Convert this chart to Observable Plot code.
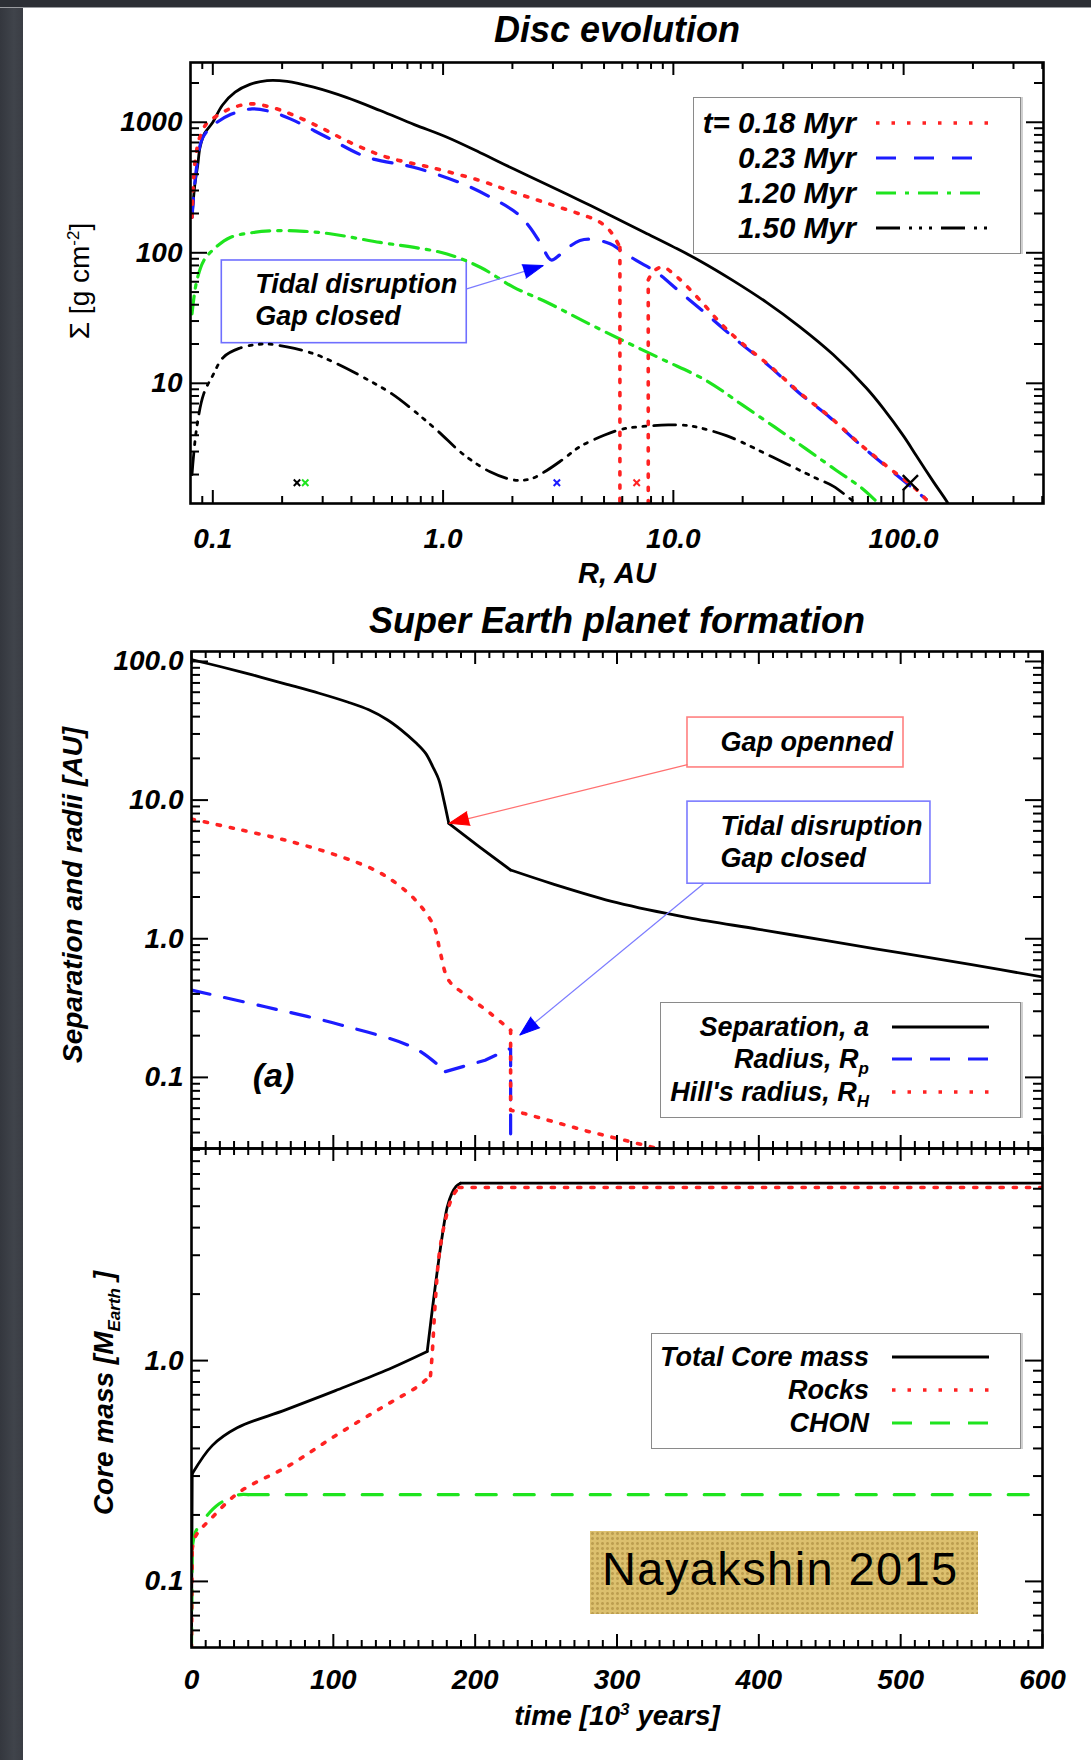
<!DOCTYPE html>
<html>
<head>
<meta charset="utf-8">
<script src="https://cdn.jsdelivr.net/npm/d3@7"></script>
<script src="https://cdn.jsdelivr.net/npm/@observablehq/plot@0.6"></script>
<style>
  html, body { margin: 0; padding: 0; background: #fff; }
  #page { position: relative; width: 1091px; height: 1760px; overflow: hidden; background: #fff;
          font-family: "Liberation Sans", Arial, Helvetica, sans-serif; color: #000; }
  .lbl { position: absolute; white-space: nowrap; font-weight: bold; font-style: italic; line-height: 1; }
  .ctr { transform: translate(-50%, -50%); }
  .rot { transform: translate(-50%, -50%) rotate(-90deg); }
  .legend { position: absolute; box-sizing: border-box; background: #fff; border: 1.5px solid #8a8a8a; box-shadow: 2px 0 0 #d0d0d0; }
  .legend .txt { position: absolute; transform: translate(-100%, -50%); white-space: nowrap;
                 font-weight: bold; font-style: italic; font-size: 27px; line-height: 1; }
  .legend svg { position: absolute; overflow: visible; }
  sub, sup { font-size: 17px; line-height: 0; }
  #nay { position: absolute; left: 590px; top: 1531px; width: 388px; height: 83px;
         background-color: #dcc06e;
         background-image: radial-gradient(rgba(150,118,45,0.45) 1.1px, transparent 1.8px);
         background-size: 5px 5px; }
  #nay span { position: absolute; left: 12px; top: 14px; font-size: 47px; line-height: 47px;
              letter-spacing: 1.4px; font-weight: normal; font-style: normal; white-space: nowrap; }
</style>
</head>
<body>
<div id="page"></div>
<script>
// ======================= DATA =======================
// --- Panel 1: Disc evolution (R in AU, Sigma in g cm^-2) ---
const discR_init = [0.0812, 0.0835, 0.086, 0.088, 0.092, 0.1, 0.11, 0.125, 0.145, 0.172, 0.21, 0.274, 0.38, 0.533, 0.75, 1.04, 1.45, 2.02, 2.8, 3.93, 5.5, 7.5, 10, 13, 18.1, 25.4, 35.3, 49.4, 68.9, 81.7, 100, 113.4, 135, 156, 170];
const discS_init = [187, 330, 470, 644, 820, 1000, 1350, 1700, 1950, 2088, 2060, 1856, 1550, 1230, 960, 768, 585, 440, 335, 252, 188, 143, 111, 87, 61.5, 41.7, 27.2, 16.6, 9.2, 6.4, 3.94, 2.8, 1.75, 1.2, 0.9];

const discR_018 = [0.0812, 0.0838, 0.088, 0.094, 0.1, 0.12, 0.148, 0.18, 0.217, 0.292, 0.407, 0.57, 0.878, 1.45, 2.0, 2.82, 3.93, 4.65, 5.13, 5.5, 5.86, 5.86, 7.78, 7.78, 8.2, 9.0, 10, 11, 13.5, 16, 19.4, 26, 35.3, 48, 64.3, 85, 113, 127, 140];
const discS_018 = [187, 509, 780, 980, 1070, 1280, 1383, 1300, 1160, 916, 683, 540, 452, 357, 293, 240, 198, 177, 157, 135, 110, 0.9, 0.9, 62, 72, 78, 69, 59.5, 40.6, 29, 21, 13.8, 8.5, 5.5, 3.45, 2.3, 1.55, 1.25, 1.0];

const discR_023 = [0.0812, 0.085, 0.09, 0.1, 0.12, 0.148, 0.18, 0.217, 0.313, 0.467, 0.744, 1.22, 1.71, 2.1, 2.38, 2.65, 2.95, 3.2, 3.55, 3.93, 4.4, 5.13, 5.49, 5.86, 6.93, 8.44, 10.7, 13.9, 19.4, 26, 35.3, 48, 64.3, 85, 113, 125];
const discS_023 = [187, 450, 750, 944, 1150, 1266, 1200, 1062, 768, 540, 452, 337, 251, 200, 157, 118, 88, 96, 112, 124, 127, 120, 114, 105, 87, 71, 50, 34, 20.5, 13.6, 8.4, 5.45, 3.42, 2.27, 1.5, 1.3];

const discR_120 = [0.0812, 0.085, 0.0913, 0.1, 0.119, 0.15, 0.196, 0.25, 0.323, 0.533, 0.75, 1.04, 1.45, 2.02, 2.82, 4.0, 6.06, 9.0, 13.9, 20, 32, 51.1, 65, 78, 90];
const discS_120 = [34, 60, 87, 105, 131, 143, 148, 146, 140, 120, 110, 98, 77.5, 54.6, 41.8, 30.5, 21.2, 15.2, 10.5, 6.8, 3.85, 2.15, 1.6, 1.2, 0.95];

const discR_150 = [0.0812, 0.085, 0.0913, 0.1, 0.111, 0.13, 0.166, 0.21, 0.273, 0.35, 0.451, 0.6, 0.744, 0.95, 1.22, 1.6, 2.02, 2.4, 2.82, 3.3, 3.93, 5.0, 6.06, 7.91, 9.5, 11.8, 17, 27.1, 41.8, 49.4, 62.4, 70];
const discS_150 = [2.0, 4.5, 8.3, 11.5, 15.8, 18.5, 20, 19, 16.9, 14, 11.1, 8.3, 6.2, 4.3, 2.87, 2.1, 1.82, 1.85, 2.15, 2.6, 3.27, 4.0, 4.47, 4.72, 4.8, 4.72, 3.97, 2.71, 1.87, 1.63, 1.2, 1.05];

// planet positions marked with crosses
const planetR = [0.232, 0.252, 3.12, 6.93, 107];
const planetS = [1.73, 1.73, 1.73, 1.73, 1.73];
const planetSeries = ["1.50", "1.20", "0.23", "0.18", "initial"];

const discLegendLabels = ["t= 0.18 Myr", "0.23 Myr", "1.20 Myr", "1.50 Myr"];
const discXTicks = [0.1, 1, 10, 100];
const discXTickLabels = ["0.1", "1.0", "10.0", "100.0"];
const discYTicks = [10, 100, 1000];
const discYTickLabels = ["10", "100", "1000"];

// --- Panel 2: Separation and radii [AU] vs time [10^3 yr] ---
const timeSep = [0, 20, 43, 66, 90, 110, 125, 138, 148, 158, 165, 170, 174.4, 177.9, 181.4, 203, 225, 254, 300, 350, 400, 450, 500, 550, 600];
const sepA    = [103, 92, 80, 69, 59, 51, 44.8, 38, 32, 26, 21.8, 17.5, 14, 10, 6.8, 4.6, 3.13, 2.5, 1.82, 1.42, 1.17, 0.96, 0.79, 0.65, 0.53];
const timeRp  = [0, 52, 106, 158, 179, 207, 225, 225];
const radRp   = [0.426, 0.323, 0.238, 0.161, 0.11, 0.133, 0.162, 0.02];
const timeRH  = [0, 30, 67.5, 104, 130, 146, 160, 171, 175.6, 181.4, 195.5, 210.8, 225, 225, 235.5, 278, 330, 340];
const radRH   = [7.3, 6.25, 5.1, 3.95, 3.1, 2.44, 1.8, 1.22, 0.78, 0.5, 0.38, 0.289, 0.219, 0.058, 0.0546, 0.0412, 0.0305, 0.028];
const sepYTicks = [0.1, 1, 10, 100];
const sepYTickLabels = ["0.1", "1.0", "10.0", "100.0"];

// --- Panel 3: Core mass [M_Earth] vs time ---
const timeCore  = [0, 0.5, 14.6, 32.2, 66.3, 101.5, 136.8, 166.2, 170.9, 175.6, 180.3, 183.5, 186.5, 189.7, 600];
const massCore  = [0.05, 0.307, 0.412, 0.496, 0.598, 0.731, 0.901, 1.10, 1.94, 3.26, 4.95, 5.7, 6.15, 6.36, 6.36];
const timeRocks = [0, 0.5, 2.8, 14.6, 33.4, 68.6, 101.5, 134.4, 160.3, 168.5, 169.7, 172, 174.4, 177.9, 183.8, 188.5, 600];
const massRocks = [0.05, 0.14, 0.16, 0.195, 0.253, 0.334, 0.457, 0.614, 0.77, 0.855, 1.07, 1.9, 2.94, 4.02, 5.5, 6.08, 6.08];
const timeCHON  = [0, 0.5, 2.8, 9.9, 19.3, 32.2, 40, 600];
const massCHON  = [0.05, 0.14, 0.167, 0.195, 0.224, 0.246, 0.247, 0.247];
const massYTicks = [0.1, 1];
const massYTickLabels = ["0.1", "1.0"];
const timeTicks = [0, 100, 200, 300, 400, 500, 600];
const timeTickLabels = ["0", "100", "200", "300", "400", "500", "600"];

// ======================= STYLES / LAYOUT =======================
const FONT = '"Liberation Sans", Arial, Helvetica, sans-serif';
const W = 1091;
const ns = "http://www.w3.org/2000/svg";
const page = document.getElementById("page");

const STY = {
  solid: {stroke: "#000", strokeWidth: 2.8},
  red:   {stroke: "#ff2222", strokeWidth: 3.6, strokeDasharray: "3.2 10"},
  blue:  {stroke: "#1c1cff", strokeWidth: 3.2, strokeDasharray: "19 15"},
  green: {stroke: "#1ee41e", strokeWidth: 3.2, strokeDasharray: "18 8 3.5 8"},
  green2:{stroke: "#1ee41e", strokeWidth: 3.2, strokeDasharray: "20 18"},
  dash3: {stroke: "#000", strokeWidth: 2.8, strokeDasharray: "22 8 3 7 3 7 3 8"}
};
const SERIES_COLOR = {"0.18": "#ff2222", "0.23": "#1c1cff", "1.20": "#1ee41e", "1.50": "#000", "initial": "#000"};
const TXT = {fontFamily: FONT, fontSize: 28, fontWeight: "bold", fontStyle: "italic", fill: "#000"};

// a series drawn as consecutive pieces [from, to, curve]; smooth pieces and sharp corners
function lineFrom(xs, ys, st, pieces) {
  const pts = xs.map((x, i) => ({x, y: ys[i]}));
  const segs = pieces || [[0, xs.length - 1, "catmull-rom"]];
  return segs.map(([a, b, curve]) =>
    Plot.line(pts.slice(a, b + 1), {x: "x", y: "y", ...st, curve, strokeLinejoin: "round", clip: true}));
}
function minorLog(lo, hi) {
  const out = [];
  for (let k = -3; k <= 4; k++) for (let m = 2; m <= 9; m++) {
    const v = +(m * Math.pow(10, k)).toPrecision(6);
    if (v > lo && v < hi) out.push(v);
  }
  return out;
}
function frameTicks(fw, fh, xMaj, xMin, yMaj, yMin) {
  const st = {stroke: "#000", strokeWidth: 2};
  const XM = 13, Xm = 7, YM = 17, Ym = 9;
  return [
    Plot.ruleX(xMaj, {x: d => d, insetTop: fh - XM, ...st}),
    Plot.ruleX(xMaj, {x: d => d, insetBottom: fh - XM, ...st}),
    Plot.ruleX(xMin, {x: d => d, insetTop: fh - Xm, ...st}),
    Plot.ruleX(xMin, {x: d => d, insetBottom: fh - Xm, ...st}),
    Plot.ruleY(yMaj, {y: d => d, insetRight: fw - YM, ...st}),
    Plot.ruleY(yMaj, {y: d => d, insetLeft: fw - YM, ...st}),
    Plot.ruleY(yMin, {y: d => d, insetRight: fw - Ym, ...st}),
    Plot.ruleY(yMin, {y: d => d, insetLeft: fw - Ym, ...st}),
    Plot.frame({stroke: "#000", strokeWidth: 2.6})
  ];
}
function xLabels(vals, labels, dy) {
  return Plot.text(vals, {x: d => d, text: d => labels[vals.indexOf(d)], frameAnchor: "bottom", dy, ...TXT});
}
function yLabels(vals, labels) {
  return Plot.text(vals, {y: d => d, text: d => labels[vals.indexOf(d)], frameAnchor: "left", textAnchor: "end", dx: -8, ...TXT});
}
function noteBox(b, stroke) {
  return Plot.rect([0], {x1: b[0], x2: b[1], y1: b[2], y2: b[3], fill: "#fff", stroke, strokeWidth: 1.6});
}
function noteText(p, str) {
  return Plot.text([0], {x: p[0], y: p[1], text: () => str, textAnchor: "start", lineAnchor: "middle", lineHeight: 1.2, ...TXT, fontSize: 27});
}
function arrow(sx, sy, tail, tip, lineColor, headColor) {
  const dx = sx.apply(tip[0]) - sx.apply(tail[0]);
  const dy = sy.apply(tip[1]) - sy.apply(tail[1]);
  const rot = Math.atan2(dx, -dy) * 180 / Math.PI;
  return [
    Plot.link([0], {x1: tail[0], y1: tail[1], x2: tip[0], y2: tip[1], stroke: lineColor, strokeWidth: 1.2}),
    Plot.vector([0], {x: tip[0], y: tip[1], rotate: rot, length: 20, anchor: "end", shape: "spike", r: 7, fill: headColor, stroke: headColor, strokeWidth: 1})
  ];
}
function place(svg, top) {
  svg.style.position = "absolute";
  svg.style.left = "0px";
  svg.style.top = top + "px";
  page.appendChild(svg);
}

// ======================= PANEL 1 =======================
{
  const H = 600, mt = 62, mb = 97, ml = 190, mr = 48;
  const xs = {type: "log", domain: [0.08, 405]};
  const ys = {type: "log", domain: [1.2, 2870]};
  const sx = Plot.scale({x: {...xs, range: [ml, W - mr]}});
  const sy = Plot.scale({y: {...ys, range: [H - mb, mt]}});
  const idx = d3.range(planetR.length);
  const plot = Plot.plot({
    width: W, height: H, marginTop: mt, marginBottom: mb, marginLeft: ml, marginRight: mr,
    x: {...xs, axis: null}, y: {...ys, axis: null},
    style: {background: "transparent", overflow: "visible", fontFamily: FONT},
    marks: [
      noteBox([0.1094, 1.267, 20.3, 87.3], "#6f6fff"),
      noteText([0.1527, 44.6], "Tidal disruption\nGap closed"),
      ...lineFrom(discR_init, discS_init, STY.solid),
      ...lineFrom(discR_150, discS_150, STY.dash3),
      ...lineFrom(discR_120, discS_120, STY.green),
      ...lineFrom(discR_023, discS_023, STY.blue),
      ...lineFrom(discR_018, discS_018, STY.red, [[0, 20, "catmull-rom"], [20, 23, "linear"], [23, discR_018.length - 1, "catmull-rom"]]),
      Plot.dot(idx.filter(i => planetSeries[i] !== "initial"), {x: i => planetR[i], y: i => planetS[i], symbol: "times", r: 3, stroke: i => SERIES_COLOR[planetSeries[i]], strokeWidth: 2}),
      Plot.dot(idx.filter(i => planetSeries[i] === "initial"), {x: i => planetR[i], y: i => planetS[i], symbol: "times", r: 7, stroke: "#000", strokeWidth: 2.4}),
      ...arrow(sx, sy, [1.267, 52.9], [2.72, 79.8], "#7b7bff", "#0000ff"),
      ...frameTicks(W - ml - mr, H - mt - mb, discXTicks, minorLog(0.08, 405), discYTicks, minorLog(1.2, 2870)),
      xLabels(discXTicks, discXTickLabels, 44),
      yLabels(discYTicks, discYTickLabels)
    ]
  });
  place(plot, 0);
}

// ======================= PANEL 2 =======================
{
  const top = 600, H = 560, mt = 51, mb = 12, ml = 191, mr = 49;
  const xs = {domain: [0, 600]};
  const ys = {type: "log", domain: [0.0307, 118]};
  const sx = Plot.scale({x: {...xs, range: [ml, W - mr]}});
  const sy = Plot.scale({y: {...ys, range: [H - mb, mt]}});
  const plot = Plot.plot({
    width: W, height: H, marginTop: mt, marginBottom: mb, marginLeft: ml, marginRight: mr,
    x: {...xs, axis: null}, y: {...ys, axis: null},
    style: {background: "transparent", overflow: "visible", fontFamily: FONT},
    marks: [
      noteBox([349.7, 502.0, 17.2, 39.4], "#ff8080"),
      noteText([373, 26.9], "Gap openned"),
      noteBox([349.7, 521.0, 2.495, 9.75], "#7b7bff"),
      noteText([373, 5.1], "Tidal disruption\nGap closed"),
      ...lineFrom(timeSep, sepA, STY.solid, [[0, 14, "catmull-rom"], [14, 16, "linear"], [16, timeSep.length - 1, "catmull-rom"]]),
      ...lineFrom(timeRp, radRp, STY.blue, [[0, 4, "catmull-rom"], [4, timeRp.length - 1, "linear"]]),
      ...lineFrom(timeRH, radRH, STY.red, [[0, 12, "catmull-rom"], [12, timeRH.length - 1, "linear"]]),
      ...arrow(sx, sy, [349.7, 18.05], [181.6, 6.8], "#ff7070", "#ff0000"),
      ...arrow(sx, sy, [361, 2.495], [231.5, 0.202], "#7b7bff", "#0000ff"),
      Plot.text([0], {x: 57.8, y: 0.1025, text: () => "(a)", ...TXT, fontSize: 34}),
      ...frameTicks(W - ml - mr, H - mt - mb, timeTicks, d3.range(10, 600, 10).filter(v => v % 100 !== 0), sepYTicks, minorLog(0.0307, 118)),
      yLabels(sepYTicks, sepYTickLabels)
    ]
  });
  place(plot, top);
}

// ======================= PANEL 3 =======================
{
  const top = 1140, H = 620, mt = 8, mb = 113, ml = 191, mr = 49;
  const xs = {domain: [0, 600]};
  const ys = {type: "log", domain: [0.0502, 9.13]};
  const plot = Plot.plot({
    width: W, height: H, marginTop: mt, marginBottom: mb, marginLeft: ml, marginRight: mr,
    x: {...xs, axis: null}, y: {...ys, axis: null},
    style: {background: "transparent", overflow: "visible", fontFamily: FONT},
    marks: [
      ...lineFrom(timeCore, massCore, STY.solid, [[0, 1, "linear"], [1, 7, "catmull-rom"], [7, 13, "catmull-rom"], [13, 14, "linear"]]),
      ...lineFrom(timeCHON, massCHON, STY.green2, [[0, 1, "linear"], [1, 6, "catmull-rom"], [6, 7, "linear"]]),
      ...lineFrom(timeRocks, massRocks, STY.red, [[0, 1, "linear"], [1, 9, "catmull-rom"], [9, 15, "catmull-rom"], [15, 16, "linear"]]),
      ...frameTicks(W - ml - mr, H - mt - mb, timeTicks, d3.range(10, 600, 10).filter(v => v % 100 !== 0), massYTicks, minorLog(0.0502, 9.13)),
      xLabels(timeTicks, timeTickLabels, 41),
      yLabels(massYTicks, massYTickLabels)
    ]
  });
  place(plot, top);
}

// ======================= HTML DECORATION =======================
function addDiv(html, cls, x, y, extra) {
  const d = document.createElement("div");
  d.className = "lbl " + cls;
  d.innerHTML = html;
  d.style.left = x + "px";
  d.style.top = y + "px";
  if (extra) Object.assign(d.style, extra);
  page.appendChild(d);
  return d;
}
// backdrop strips
{
  const l = document.createElement("div");
  Object.assign(l.style, {position: "absolute", left: "0px", top: "0px", width: "23px", height: "1760px",
    background: "linear-gradient(90deg,#34373e,#40444b 60%,#3a3d44)"});
  page.appendChild(l);
  const t = document.createElement("div");
  Object.assign(t.style, {position: "absolute", left: "0px", top: "0px", width: "1091px", height: "7px",
    background: "#2c2f35", borderBottom: "1px solid #9a9ca0"});
  page.appendChild(t);
}
addDiv("Disc evolution", "ctr", 617, 30, {fontSize: "36px"});
addDiv("R, AU", "ctr", 617, 573, {fontSize: "29px"});
addDiv("Super Earth planet formation", "ctr", 617, 621, {fontSize: "36px"});
addDiv("time [10<sup>3</sup> years]", "ctr", 617, 1716, {fontSize: "28px"});
addDiv("&Sigma; [g cm<sup>-2</sup>]", "rot", 80, 281, {fontSize: "28px", fontWeight: "normal", fontStyle: "normal"});
addDiv("Separation and radii [AU]", "rot", 73, 895, {fontSize: "28px"});
addDiv("Core mass [M<sub>Earth</sub> ]", "rot", 104, 1393, {fontSize: "28px"});

function legend(o) {
  const box = document.createElement("div");
  box.className = "legend";
  Object.assign(box.style, {left: o.left + "px", top: o.top + "px", width: o.width + "px", height: o.height + "px"});
  o.rows.forEach(r => {
    const t = document.createElement("div");
    t.className = "txt";
    t.innerHTML = r.html;
    t.style.left = (o.textRight - o.left) + "px";
    t.style.top = (r.y - o.top) + "px";
    if (o.fontSize) t.style.fontSize = o.fontSize + "px";
    box.appendChild(t);
    const s = document.createElementNS(ns, "svg");
    s.setAttribute("width", o.x2 - o.x1);
    s.setAttribute("height", 10);
    s.style.left = (o.x1 - o.left) + "px";
    s.style.top = (r.y - o.top - 5) + "px";
    const ln = document.createElementNS(ns, "line");
    ln.setAttribute("x1", 0); ln.setAttribute("x2", o.x2 - o.x1);
    ln.setAttribute("y1", 5); ln.setAttribute("y2", 5);
    ln.setAttribute("stroke", r.st.stroke);
    ln.setAttribute("stroke-width", r.st.strokeWidth);
    if (r.st.strokeDasharray) ln.setAttribute("stroke-dasharray", r.st.strokeDasharray);
    s.appendChild(ln);
    box.appendChild(s);
  });
  page.appendChild(box);
}
legend({left: 693, top: 97, width: 328, height: 157, textRight: 855, x1: 875, x2: 987, fontSize: 29.5, rows: [
  {html: discLegendLabels[0], y: 122, st: {...STY.red, strokeDasharray: "3.5 12"}},
  {html: discLegendLabels[1], y: 157, st: {...STY.blue, strokeDasharray: "20 18"}},
  {html: discLegendLabels[2], y: 192, st: {...STY.green, strokeDasharray: "20 9 4 9"}},
  {html: discLegendLabels[3], y: 227, st: {...STY.dash3, strokeDasharray: "24 9 3 7 3 7 3 9"}}
]});
legend({left: 660, top: 1002, width: 361, height: 116, textRight: 868, x1: 891, x2: 988, rows: [
  {html: "Separation, a", y: 1026, st: STY.solid},
  {html: "Radius, R<sub>p</sub>", y: 1058, st: {...STY.blue, strokeDasharray: "20 18"}},
  {html: "Hill's radius, R<sub>H</sub>", y: 1091, st: {...STY.red, strokeDasharray: "3.5 12"}}
]});
legend({left: 651, top: 1333, width: 370, height: 116, textRight: 868, x1: 891, x2: 988, rows: [
  {html: "Total Core mass", y: 1356, st: STY.solid},
  {html: "Rocks", y: 1389, st: {...STY.red, strokeDasharray: "3.5 12"}},
  {html: "CHON", y: 1422, st: {...STY.green2, strokeDasharray: "20 18"}}
]});
{
  const n = document.createElement("div");
  n.id = "nay";
  n.innerHTML = "<span>Nayakshin 2015</span>";
  page.appendChild(n);
}
</script>
</body>
</html>
